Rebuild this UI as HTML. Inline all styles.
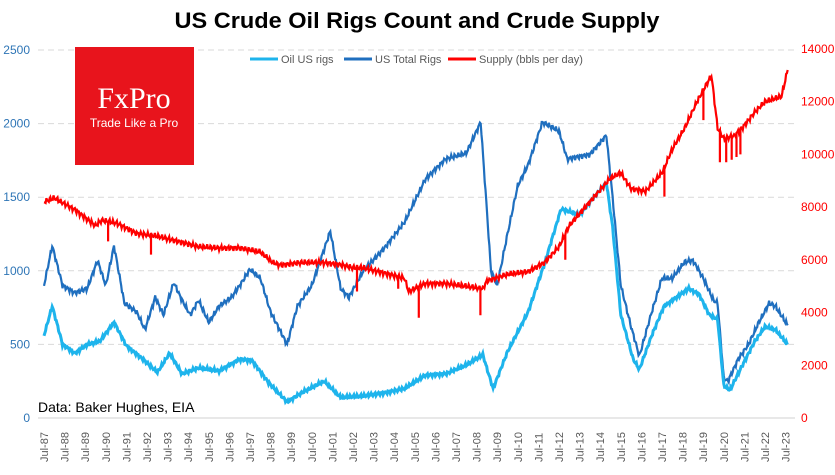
<!DOCTYPE html>
<html><head><meta charset="utf-8"><style>
body{margin:0;background:#fff;}
svg text{font-family:"Liberation Sans",sans-serif;}
</style></head><body>
<svg width="835" height="470" xmlns="http://www.w3.org/2000/svg">
<text x="417" y="28" text-anchor="middle" font-size="22" font-weight="bold" fill="#000" textLength="485" lengthAdjust="spacingAndGlyphs">US Crude Oil Rigs Count and Crude Supply</text>
<g id="grid" stroke="#d9d9d9" stroke-dasharray="6,4" stroke-width="1"></g>
<line x1="38" y1="418" x2="795" y2="418" stroke="#d0d0d0"/>
<g id="ly" fill="#2e75b6" font-size="12" text-anchor="end"></g>
<g id="ry" fill="#ff0000" font-size="12" text-anchor="start"></g>
<g id="xl" fill="#595959" font-size="11"></g>
<rect x="75" y="47" width="119" height="118" fill="#e8141c"/>
<text x="134" y="108" text-anchor="middle" fill="#fff" font-size="30" style="font-family:'Liberation Serif',serif">FxPro</text>
<text x="134" y="127" text-anchor="middle" fill="#fff" font-size="12">Trade Like a Pro</text>
<g font-size="11" fill="#595959">
<line x1="250" y1="59" x2="278" y2="59" stroke="#1eb4ec" stroke-width="3"/><text x="281" y="63">Oil US rigs</text>
<line x1="344" y1="59" x2="372" y2="59" stroke="#1f6fbf" stroke-width="3"/><text x="375" y="63">US Total Rigs</text>
<line x1="448" y1="59" x2="476" y2="59" stroke="#ff0000" stroke-width="3"/><text x="479" y="63">Supply (bbls per day)</text>
</g>
<polyline id="tot" fill="none" stroke="#1f6fbf" stroke-width="2.2"/>
<polyline id="oil" fill="none" stroke="#1eb4ec" stroke-width="3"/>
<polyline id="sup" fill="none" stroke="#ff0000" stroke-width="2.2"/>
<text x="38" y="412" font-size="14" fill="#000">Data: Baker Hughes, EIA</text>
</svg>
<script>
const NS="http://www.w3.org/2000/svg";
function el(p,t,a,txt){const e=document.createElementNS(NS,t);for(const k in a)e.setAttribute(k,a[k]);if(txt!==undefined)e.textContent=txt;document.getElementById(p).appendChild(e);}
const yL=v=>418-v*0.1472, yR=v=>418-v*0.02636, X=t=>44+(t-1987.5)*20.6;
for(let v=500;v<=2500;v+=500)el("grid","line",{x1:38,x2:795,y1:yL(v),y2:yL(v)});
for(let v=0;v<=2500;v+=500)el("ly","text",{x:30,y:yL(v)+4},v);
for(let v=0;v<=14000;v+=2000)el("ry","text",{x:801,y:yR(v)+4},v);
for(let i=0;i<37;i++){const yr=(87+i)%100;const s="Jul-"+String(yr).padStart(2,"0");const x=X(1987.5+i)+4;el("xl","text",{x:x,y:462,transform:`rotate(-90 ${x} 462)`},s);}
function line(id,pts,yf,amp,spikes){spikes=spikes||[];let out=[];for(let k=0;k<pts.length-1;k++){const[a,va]=pts[k],[b,vb]=pts[k+1];const n=Math.max(1,Math.round((b-a)*26));for(let j=0;j<n;j++){const t=a+(b-a)*j/n;let v=va+(vb-va)*j/n;v+=amp*(Math.sin(t*37.1)+0.6*Math.sin(t*91.7));out.push(X(t).toFixed(1)+","+yf(v).toFixed(1));for(const s of spikes){if(Math.abs(t-s[0])<0.5/26){out.push(X(t).toFixed(1)+","+yf(s[1]).toFixed(1));out.push(X(t).toFixed(1)+","+yf(v).toFixed(1));}}}}const l=pts[pts.length-1];out.push(X(l[0]).toFixed(1)+","+yf(l[1]).toFixed(1));document.getElementById(id).setAttribute("points",out.join(" "));}
line("tot",[[1987.5,900],[1987.9,1170],[1988.4,900],[1989,850],[1989.6,880],[1990.1,1070],[1990.5,900],[1990.9,1170],[1991.4,780],[1992,720],[1992.4,600],[1992.9,820],[1993.3,700],[1993.8,920],[1994.2,800],[1994.6,700],[1995,800],[1995.5,650],[1996,760],[1996.6,820],[1997,900],[1997.5,1010],[1998,950],[1998.5,720],[1999.3,500],[1999.8,760],[2000.5,900],[2001.4,1270],[2001.9,880],[2002.3,820],[2003,1000],[2004,1150],[2005,1330],[2006,1620],[2007,1760],[2008,1800],[2008.7,2010],[2009.2,1000],[2009.5,900],[2010,1250],[2010.5,1580],[2011,1720],[2011.7,2010],[2012.5,1950],[2012.9,1760],[2014,1790],[2014.8,1920],[2015.1,1500],[2015.5,900],[2016,620],[2016.4,420],[2017,720],[2017.5,950],[2018,950],[2018.6,1060],[2019,1070],[2019.5,950],[2020,800],[2020.2,780],[2020.5,270],[2020.7,250],[2021.2,400],[2021.7,500],[2022.2,650],[2022.7,780],[2023,760],[2023.6,630]],yL,12);
line("oil",[[1987.5,560],[1987.9,760],[1988.4,500],[1989,440],[1989.6,500],[1990.2,520],[1990.9,650],[1991.5,490],[1992.3,400],[1993,310],[1993.6,440],[1994.2,300],[1995,340],[1996,320],[1997,400],[1997.6,390],[1998.4,240],[1999.3,110],[2000,170],[2001.1,250],[2001.9,140],[2003,150],[2004,170],[2005,200],[2006,290],[2007,300],[2008,360],[2008.8,430],[2009.3,200],[2010,450],[2011,720],[2011.8,1050],[2012.6,1420],[2013.5,1380],[2014.2,1500],[2014.8,1600],[2015.1,1300],[2015.5,700],[2016.1,400],[2016.4,330],[2017,560],[2017.6,760],[2018.2,820],[2018.8,880],[2019.3,840],[2019.8,700],[2020.2,670],[2020.5,220],[2020.8,190],[2021.3,330],[2022,520],[2022.5,620],[2023,600],[2023.6,500]],yL,8);
line("sup",[[1987.5,8200],[1988,8350],[1989,7900],[1990,7300],[1990.3,7500],[1991,7400],[1992,7000],[1993,6900],[1994,6700],[1995,6500],[1996,6450],[1997,6450],[1998,6300],[1998.6,5900],[1999,5800],[2000,5900],[2001,5900],[2002,5800],[2002.5,5700],[2003,5700],[2004,5500],[2005,5300],[2005.2,4800],[2006,5100],[2007,5100],[2008,5000],[2008.8,4900],[2009,5200],[2010,5450],[2011,5550],[2011.8,5900],[2012.5,6500],[2013,7300],[2014,8200],[2015,9100],[2015.5,9300],[2016,8700],[2016.7,8600],[2017.5,9300],[2018,10200],[2018.6,11000],[2019.2,12000],[2019.9,13000],[2020.2,11000],[2020.5,10600],[2021,10700],[2021.5,11100],[2022,11600],[2022.5,12000],[2023.3,12200],[2023.6,13200]],yR,70,
[[1990.6,6700],[1992.7,6200],[2002.7,4800],[2004.7,4900],[2005.7,3800],[2008.7,3900],[2012.8,6000],[2017.6,8400],[2019.5,11300],[2020.3,9700],[2020.6,9700],[2020.9,9800],[2021.1,9900],[2021.3,10000]]);
</script>
</body></html>
